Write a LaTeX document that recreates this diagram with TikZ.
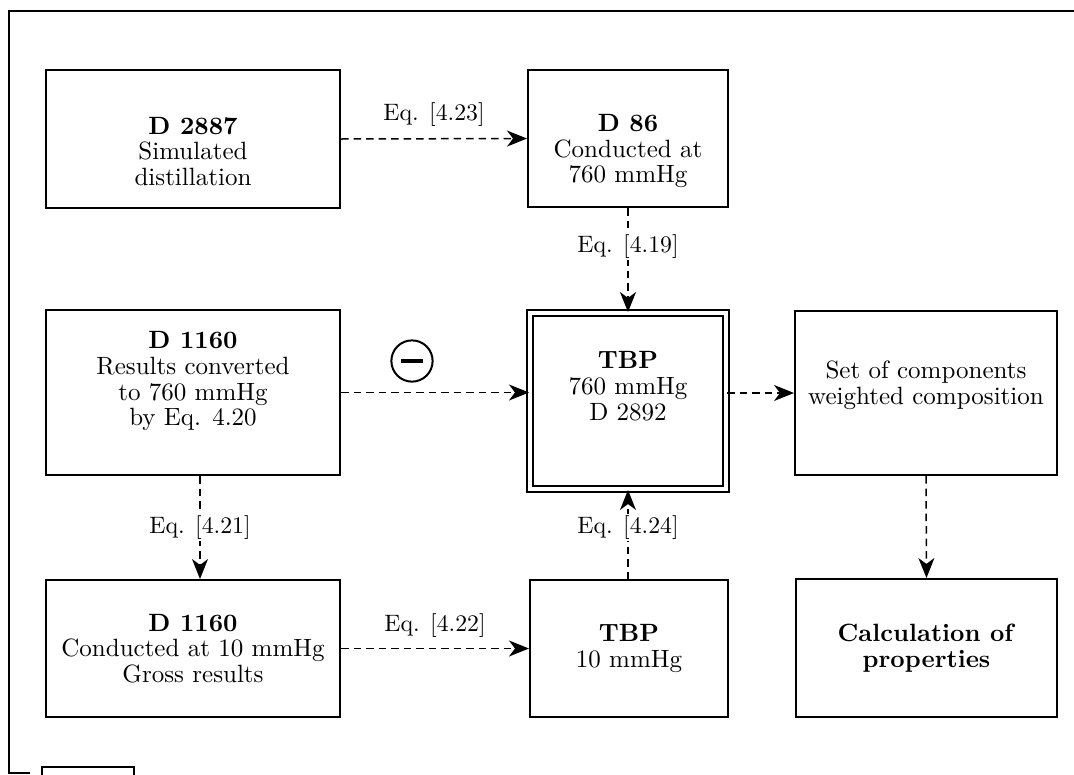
\documentclass[tikz,border=0pt]{standalone}
\usetikzlibrary{arrows.meta}

\tikzstyle{flowfig}=[x=0.4pt,y=-0.4pt]
\tikzstyle{box}=[draw,line width=0.8pt,inner sep=0pt]
\tikzstyle{boxtext}=[align=center,inner sep=0pt,font=\fontsize{10}{10.3}\selectfont]
\tikzstyle{eqlabel}=[fill=white,inner xsep=1.5pt,inner ysep=0.5pt,font=\fontsize{9.5}{10}\selectfont]
\tikzstyle{flow}=[line width=0.6pt,dash pattern=on 3pt off 2pt,-{Stealth[length=8pt,width=6.4pt,inset=2.4pt]}]

\begin{document}
\begin{tikzpicture}[style=flowfig]
\useasboundingbox (0,0) rectangle (1074,774);

% page frame
\draw[line width=0.6pt] (1074,11) -- (9,11) -- (9,773) -- (30,773);
\draw[line width=0.6pt] (42,790) -- (42,767) -- (134,767) -- (134,790);

% top row
\node[box,minimum width=117.6pt,minimum height=55.2pt,
  label={[boxtext,yshift=-5pt]center:{\textbf{D 2887}\\Simulated\\distillation}}] (d2887) at (193,139) {};
\node[box,minimum width=80pt,minimum height=54.8pt,
  label={[boxtext,yshift=-5pt]center:{\textbf{D 86}\\Conducted at\\760 mmHg}}] (d86) at (628,138.5) {};

% middle row
\node[box,minimum width=117.6pt,minimum height=66pt,
  label={[boxtext,yshift=4.5pt]center:{\textbf{D 1160}\\Results converted\\to 760 mmHg\\by Eq. 4.20}}] (d1160c) at (193,392.5) {};
\node[box,double,double distance=1.6pt,minimum width=78.4pt,minimum height=70.4pt,
  label={[boxtext,yshift=6pt]center:{\textbf{TBP}\\760 mmHg\\D 2892}}] (tbp760) at (628,401) {};
\node[box,minimum width=104.8pt,minimum height=65.6pt,
  label={[boxtext,yshift=3pt]center:{Set of components\\weighted composition}}] (setcomp) at (926,393) {};

% bottom row
\node[box,minimum width=117.6pt,minimum height=54.8pt,
  label={[boxtext]center:{\textbf{D 1160}\\Conducted at 10 mmHg\\Gross results}}] (d1160g) at (193,648.5) {};
\node[box,minimum width=79.2pt,minimum height=54.8pt,
  label={[boxtext]center:{\textbf{TBP}\\10 mmHg}}] (tbp10) at (629,648.5) {};
\node[box,minimum width=104.4pt,minimum height=55.2pt,
  label={[boxtext]center:{\textbf{Calculation of}\\\textbf{properties}}}] (calc) at (926.5,648) {};

% minus sign
\node[draw,circle,line width=0.8pt,minimum size=16.5pt,inner sep=0pt] (minus) at (412,361) {};
\draw[line width=1.7pt] ([xshift=-4.5pt]minus.center) -- ([xshift=4.5pt]minus.center);

% connections
\draw[flow] (d2887.east) -- (d86.west) node[midway,above=4pt,eqlabel] {Eq. [4.23]};
\draw[flow] (d86.south) -- (tbp760.north) node[pos=0.37,eqlabel] {Eq. [4.19]};
\draw[flow] (d1160c.east) -- (d1160c.east -| tbp760.west);
\draw[flow] (tbp760.east |- setcomp.west) -- (setcomp.west);
\draw[flow] (setcomp.south) -- (calc.north);
\draw[flow] ([xshift=2.8pt]d1160c.south) -- ([xshift=2.8pt]d1160g.north) node[pos=0.5,eqlabel] {Eq. [4.21]};
\draw[flow] (d1160g.east) -- (tbp10.west) node[midway,above=3.5pt,eqlabel] {Eq. [4.22]};
\draw[flow] (tbp10.north -| tbp760.south) -- (tbp760.south) node[pos=0.58,eqlabel] {Eq. [4.24]};
\end{tikzpicture}
\end{document}
